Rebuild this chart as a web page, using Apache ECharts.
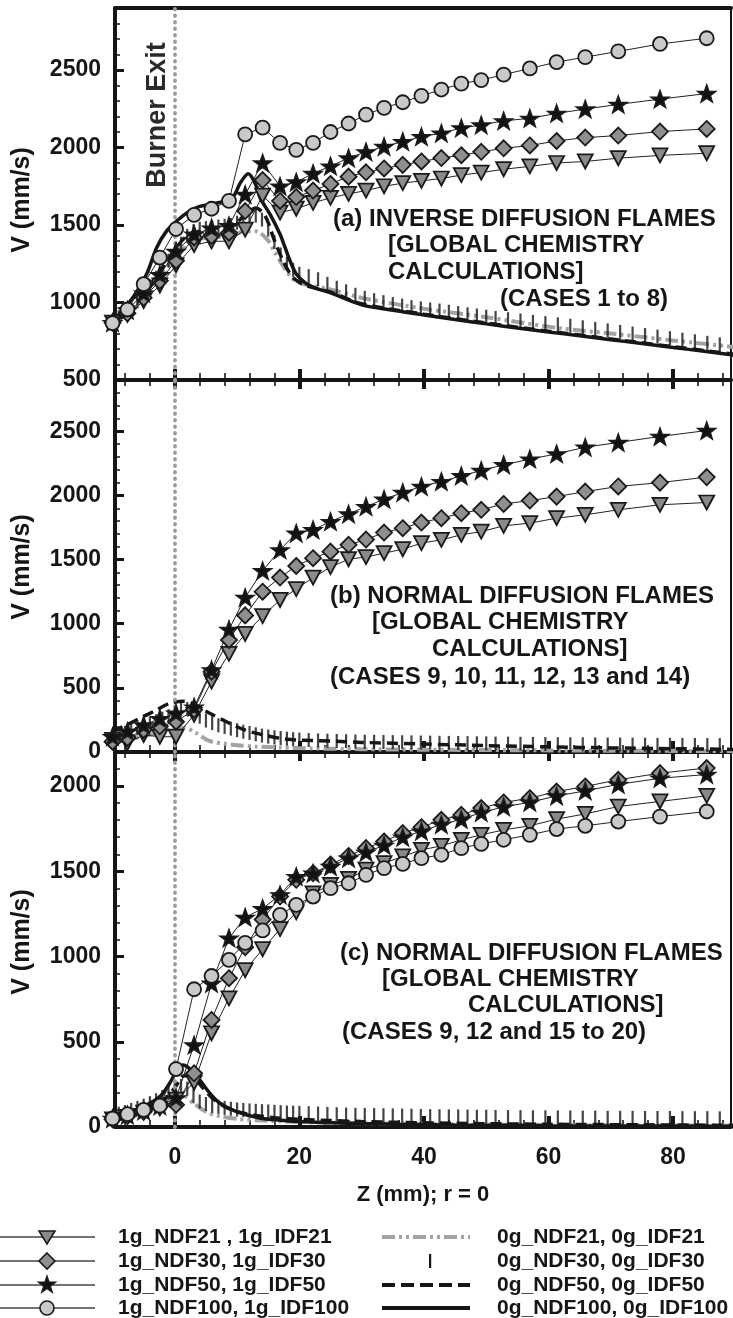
<!DOCTYPE html>
<html>
<head>
<meta charset="utf-8">
<script src="https://cdn.jsdelivr.net/npm/echarts@6/dist/echarts.min.js"></script>
<style>
  html, body { margin: 0; padding: 0; background: #fff; }
  #chart { width: 733px; height: 1318px; }
</style>
</head>
<body>
<div id="chart"></div>
<script>
// ---- Axial positions (mm) of the 1g solution points ----
const Z = [-10, -7.6, -5, -2.4, 0.2, 3.1, 5.9, 8.7, 11.3, 14.1, 16.9, 19.5, 22.2, 25, 27.9, 30.7,
  33.6, 36.6, 39.6, 42.8, 46, 49.2, 52.8, 57, 61.3, 65.9, 71.2, 77.9, 85.4];

// ---- (a) inverse diffusion flames, normal gravity ----
const A_T21 = [870, 920, 1010, 1110, 1240, 1370, 1395, 1395, 1470, 1690, 1580, 1605, 1643, 1675, 1701, 1722,
  1750, 1770, 1785, 1800, 1822, 1838, 1860, 1878, 1900, 1910, 1931, 1949, 1963];
const A_D30 = [870, 930, 1030, 1140, 1270, 1420, 1430, 1450, 1590, 1790, 1655, 1680, 1722, 1765, 1812, 1840,
  1865, 1888, 1910, 1932, 1950, 1972, 1995, 2013, 2042, 2064, 2077, 2103, 2120];
const A_S50 = [870, 950, 1060, 1180, 1330, 1440, 1480, 1495, 1697, 1900, 1750, 1777, 1832, 1880, 1932, 1972,
  2006, 2038, 2070, 2092, 2126, 2145, 2172, 2188, 2220, 2248, 2278, 2312, 2348];
const A_C100 = [867, 955, 1118, 1290, 1474, 1565, 1605, 1656, 2085, 2128, 2030, 1985, 2030, 2100, 2155, 2212,
  2256, 2292, 2333, 2374, 2412, 2435, 2470, 2510, 2551, 2583, 2620, 2668, 2705];

// ---- (b) normal diffusion flames, normal gravity ----
const B_T21 = [94, 70, 133, 119, 119, 290, 550, 765, 920, 1060, 1185, 1270, 1360, 1441, 1503, 1520,
  1550, 1581, 1628, 1654, 1693, 1718, 1763, 1784, 1823, 1849, 1888, 1927, 1945];
const B_D30 = [80, 110, 172, 200, 236, 330, 626, 874, 1065, 1250, 1360, 1450, 1511, 1562, 1615, 1656,
  1711, 1745, 1789, 1823, 1862, 1888, 1934, 1960, 1991, 2030, 2070, 2100, 2143];
const B_S50 = [120, 160, 210, 260, 302, 350, 640, 955, 1205, 1413, 1576, 1706, 1732, 1796, 1856, 1913,
  1970, 2023, 2070, 2108, 2153, 2194, 2239, 2283, 2324, 2376, 2413, 2460, 2506];

// ---- (c) normal diffusion flames, normal gravity ----
const C_T21 = [45, 60, 85, 110, 160, 260, 550, 755, 920, 1043, 1161, 1259, 1370, 1420, 1455, 1510,
  1548, 1587, 1626, 1649, 1685, 1714, 1743, 1767, 1806, 1837, 1880, 1910, 1943];
const C_D30 = [45, 65, 90, 120, 130, 315, 628, 873, 1055, 1217, 1352, 1450, 1489, 1540, 1590, 1636,
  1675, 1724, 1759, 1802, 1831, 1871, 1904, 1929, 1968, 1998, 2037, 2076, 2106];
const C_S50 = [50, 70, 95, 125, 170, 481, 843, 1108, 1230, 1281, 1362, 1469, 1489, 1528, 1577, 1612,
  1652, 1700, 1735, 1775, 1805, 1845, 1878, 1905, 1942, 1972, 2010, 2046, 2068];
const C_C100 = [50, 75, 100, 125, 340, 808, 886, 980, 1080, 1153, 1244, 1303, 1352, 1401, 1430, 1479,
  1519, 1544, 1577, 1597, 1636, 1661, 1685, 1714, 1748, 1767, 1792, 1821, 1851];

// ---- Zero-gravity solutions ----
// 21% curves (grey dash-dot)
const A0_Z21 = [-10, -6, -2, 0, 3, 6, 9, 11, 13, 15, 16, 17.5, 19, 21, 25, 30, 40, 50, 62, 70, 80, 90];
const A0_V21 = [870, 990, 1180, 1290, 1400, 1420, 1425, 1460, 1460, 1400, 1330, 1230, 1150, 1115, 1085, 1030, 960, 905, 833, 800, 755, 712];
const B0_Z21 = [-10, -7, -4, -2, 0, 1.5, 3.5, 5, 6, 8, 10, 13, 17, 22, 30, 40, 55, 70, 90];
const B0_V21 = [70, 100, 135, 165, 190, 190, 146, 100, 80, 65, 52, 42, 35, 28, 22, 18, 14, 10, 8];
const C0_Z21 = [-10, -7, -4, -2, -0.5, 0.5, 1.5, 3, 5, 7, 10, 14, 20, 30, 45, 60, 90];
const C0_V21 = [35, 60, 95, 135, 175, 195, 185, 140, 90, 65, 48, 38, 30, 22, 16, 12, 8];

// 30% curves ('|' marks)
const ZBAR = [-10, -9, -8, -7, -6, -5, -4, -3, -2, -1, 0, 1, 2, 3, 4, 5, 6, 7, 8, 9, 10, 11, 12, 13, 14, 15, 16, 17, 18, 19, 20,
  21.5, 23, 24.5, 26, 27.5, 29, 30.5, 32, 33.5, 35, 36.5, 38, 39.5, 41, 42.5, 44, 45.5, 47, 48.5, 50, 51.5,
  53.5, 55.5, 57.5, 59.5, 61.5, 63.5, 65.5, 67.5, 69.5, 71.5, 73.5, 75.5, 77.5, 79.5, 81.5, 83.5, 85.5, 87.5, 89.5];
const A0_V30 = [880, 905, 935, 970, 1010, 1055, 1105, 1160, 1215, 1270, 1320, 1380, 1430, 1460, 1475, 1480, 1485, 1490, 1495, 1500,
  1515, 1535, 1555, 1560, 1535, 1470, 1390, 1310, 1250, 1210, 1185,
  1170, 1150, 1120, 1095, 1072, 1050, 1030, 1015, 1002, 990, 980, 970, 962, 955, 948, 940, 932, 924, 916, 908, 900,
  892, 884, 875, 867, 859, 850, 840, 830, 820, 810, 800, 790, 780, 770, 760, 750, 740, 730, 720];
const B0_V30 = [120, 135, 150, 168, 185, 202, 220, 240, 260, 280, 300, 330, 335, 305, 275, 245, 225, 208, 195, 182,
  170, 158, 148, 138, 128, 120, 114, 109, 104, 100, 97,
  93, 90, 88, 86, 84, 82, 80, 79, 78, 77, 76, 75, 74, 73, 72, 71, 70, 69, 68, 67, 66,
  65, 64, 63, 62, 61, 60, 60, 59, 58, 58, 57, 57, 56, 56, 55, 55, 54, 54, 53];
const C0_V30 = [70, 78, 88, 100, 112, 125, 140, 157, 176, 198, 222, 240, 225, 180, 150, 135, 125, 118, 112, 107,
  103, 100, 97, 95, 93, 91, 89, 87, 85, 84, 83,
  81, 79, 77, 75, 73, 72, 71, 70, 69, 68, 67, 66, 65, 64, 63, 62, 62, 61, 60, 60, 59,
  58, 58, 57, 57, 56, 56, 55, 55, 54, 54, 54, 53, 53, 53, 52, 52, 52, 51, 51];

// 50% curves (black dashed)
const A0_Z50 = [-10, -6, -2, 0, 2, 5, 8, 10, 12, 13, 14.5, 16, 17.5, 19, 21, 25, 30, 40, 50, 60, 70, 80, 90];
const A0_V50 = [870, 990, 1220, 1340, 1430, 1470, 1490, 1520, 1590, 1610, 1560, 1400, 1260, 1160, 1110, 1068, 992, 925, 868, 815, 765, 715, 665];
const B0_Z50 = [-10, -9.4, -7.2, -5.1, -2.9, -0.8, 1.5, 2.5, 4, 5.6, 8.3, 11.2, 14.2, 16.9, 19.5, 25, 30, 40, 50, 60, 70, 80, 90];
const B0_V50 = [160, 172, 224, 275, 328, 380, 395, 385, 345, 302, 236, 172, 133, 107, 94, 85, 75, 62, 50, 40, 32, 26, 20];
const C0_Z50 = [-10, -7, -4, -2, 0, 1.5, 3, 4.5, 6, 8, 10, 13, 16, 20, 30, 45, 60, 90];
const C0_V50 = [35, 65, 105, 150, 230, 300, 290, 230, 170, 120, 90, 68, 55, 45, 32, 22, 16, 10];

// 100% curves (black solid)
const A0_Z100 = [-10, -8.8, -6.7, -4.5, -2.9, -1.3, 0.3, 2.4, 4, 6, 8, 9.5, 10.5, 11.8, 13, 13.7, 15.3, 16.9, 17.7, 18.5, 19.5,
  21, 22.5, 25, 30, 35, 40, 45, 50, 55, 60, 65, 70, 75, 80, 85, 90];
const A0_V100 = [870, 930, 1034, 1186, 1355, 1462, 1526, 1590, 1620, 1635, 1655, 1690, 1770, 1830, 1760, 1675, 1568, 1440, 1355, 1269, 1184,
  1125, 1095, 1062, 985, 950, 920, 890, 862, 835, 810, 785, 760, 735, 710, 685, 660];
const C0_Z100 = [-10, -8.3, -5.1, -2.4, -0.8, 0.3, 1.3, 2.3, 4, 5.6, 7.2, 9.9, 13.6, 17, 20, 30, 45, 60, 90];
const C0_V100 = [65, 80, 119, 178, 258, 330, 364, 345, 276, 199, 141, 90, 53, 40, 32, 20, 12, 8, 5];

// ---- Axis ticks ----
const X_MINOR = [-8, -4, 0, 4, 8, 12, 16, 20, 24, 28, 32, 36, 40, 44, 48, 52, 56, 60, 64, 68, 72, 76, 80, 84, 88];
const X_MAJOR = [0, 20, 40, 60, 80];
const X_LABELS = [0, 20, 40, 60, 80];

// ---- Drawing ----
const XMIN = -9.6, XMAX = 89.3;
const INK = '#161616';
const FONT = '"Liberation Sans", Arial, Helvetica, sans-serif';

const STAR = 'path://M0,-1L0.235,-0.324L0.951,-0.309L0.38,0.124L0.588,0.809L0,0.4L-0.588,0.809L-0.38,0.124L-0.951,-0.309L-0.235,-0.324Z';
const TRI_DOWN = 'path://M-1,-0.85L1,-0.85L0,0.9Z';
const DIAMOND = 'path://M0,-1L1,0L0,1L-1,0Z';

const MARK = {
  t21: { symbol: TRI_DOWN, size: [15, 14], fill: '#8a8a8a' },
  d30: { symbol: DIAMOND, size: [16, 16], fill: '#8f8f8f' },
  s50: { symbol: STAR, size: [17, 16], fill: '#111111' },
  c100: { symbol: 'circle', size: 14, fill: '#c9c9c9' }
};

const pairs = (xs, ys) => xs.map((x, i) => [x, ys[i]]);

const PANELS = [
  { top: 8, height: 372, ymin: 500, ymax: 2900,
    marks: { t21: A_T21, d30: A_D30, s50: A_S50, c100: A_C100 },
    g21: [A0_Z21, A0_V21], g30: A0_V30, g50: [A0_Z50, A0_V50], g100: [A0_Z100, A0_V100] },
  { top: 380, height: 372, ymin: 0, ymax: 2900,
    marks: { t21: B_T21, d30: B_D30, s50: B_S50 },
    g21: [B0_Z21, B0_V21], g30: B0_V30, g50: [B0_Z50, B0_V50], g100: null },
  { top: 752, height: 375, ymin: 0, ymax: 2200,
    marks: { t21: C_T21, d30: C_D30, s50: C_S50, c100: C_C100 },
    g21: [C0_Z21, C0_V21], g30: C0_V30, g50: [C0_Z50, C0_V50], g100: [C0_Z100, C0_V100] }
];

const grids = [], xAxes = [], yAxes = [], series = [];

function tickAxis(gi, position, values, length, width) {
  return {
    gridIndex: gi, type: 'value', min: XMIN, max: XMAX, position,
    axisLine: { show: false, onZero: false },
    axisTick: { show: true, inside: true, length, customValues: values, lineStyle: { color: INK, width } },
    axisLabel: { show: false }, splitLine: { show: false }
  };
}

const LABEL_STYLE = { color: INK, fontSize: 23, fontWeight: 'bold', fontFamily: FONT };

PANELS.forEach((p, i) => {
  const last = i === PANELS.length - 1;
  grids.push({ left: 115, width: 616, top: p.top, height: p.height });

  const xi = xAxes.length;
  xAxes.push({
    gridIndex: i, type: 'value', min: XMIN, max: XMAX, position: 'bottom',
    axisLine: { show: true, onZero: false, lineStyle: { color: INK, width: 4 } },
    axisTick: { show: true, inside: true, length: 7, customValues: X_MINOR, lineStyle: { color: INK, width: 1.6 } },
    axisLabel: Object.assign({ show: last, customValues: X_LABELS, margin: 19, formatter: v => String(v) }, LABEL_STYLE),
    splitLine: { show: false },
    name: last ? 'Z (mm); r = 0' : '', nameLocation: 'middle', nameGap: 57,
    nameTextStyle: { color: INK, fontSize: 22, fontWeight: 'bold', fontFamily: FONT }
  });
  xAxes.push(tickAxis(i, 'bottom', X_MAJOR, 11, 4));
  if (i === 0) {
    xAxes.push({
      gridIndex: i, type: 'value', min: XMIN, max: XMAX, position: 'top',
      axisLine: { show: true, onZero: false, lineStyle: { color: INK, width: 4 } },
      axisTick: { show: false }, axisLabel: { show: false }, splitLine: { show: false }
    });
  } else {
    xAxes.push(tickAxis(i, 'top', X_MINOR, 6, 1.6));
    xAxes.push(tickAxis(i, 'top', X_MAJOR, 9, 4));
  }

  const yi = yAxes.length;
  yAxes.push({
    gridIndex: i, type: 'value', min: p.ymin, max: p.ymax, interval: 500, position: 'left',
    axisLine: { show: true, onZero: false, lineStyle: { color: INK, width: 4 } },
    axisTick: { show: true, inside: true, length: 9, lineStyle: { color: INK, width: 3 } },
    axisLabel: Object.assign({ show: true, showMaxLabel: false, margin: 14, formatter: v => String(v) }, LABEL_STYLE),
    splitLine: { show: false }
  });
  yAxes.push({
    gridIndex: i, type: 'value', min: p.ymin, max: p.ymax, interval: 100, position: 'left',
    axisLine: { show: false, onZero: false },
    axisTick: { show: true, inside: true, length: 5, lineStyle: { color: INK, width: 1.5 } },
    axisLabel: { show: false }, splitLine: { show: false }
  });
  yAxes.push({
    gridIndex: i, type: 'value', min: p.ymin, max: p.ymax, position: 'right',
    axisLine: { show: true, onZero: false, lineStyle: { color: INK, width: 2 } },
    axisTick: { show: false }, axisLabel: { show: false }, splitLine: { show: false }
  });

  const ax = { xAxisIndex: xi, yAxisIndex: yi };

  // zero-gravity curves
  series.push(Object.assign({
    name: '0g_21', type: 'line', data: pairs(p.g21[0], p.g21[1]), smooth: 0.3, showSymbol: false, z: 3,
    lineStyle: { color: '#a3a3a3', width: 4, type: [13, 4, 3, 4, 3, 4] },
    markLine: {
      silent: true, symbol: ['none', 'none'], label: { show: false }, animation: false,
      lineStyle: { color: '#9c9c9c', width: 3.8, type: [0.5, 6], cap: 'round' },
      data: [{ xAxis: 0 }]
    }
  }, ax));
  series.push(Object.assign({
    name: '0g_30', type: 'scatter', data: pairs(ZBAR, p.g30), symbol: 'rect', symbolSize: [2.2, 14], z: 3,
    itemStyle: { color: INK }
  }, ax));
  series.push(Object.assign({
    name: '0g_50', type: 'line', data: pairs(p.g50[0], p.g50[1]), smooth: 0.3, showSymbol: false, z: 3,
    lineStyle: { color: INK, width: 3.5, type: [11, 6] }
  }, ax));
  if (p.g100) {
    series.push(Object.assign({
      name: '0g_100', type: 'line', data: pairs(p.g100[0], p.g100[1]), smooth: 0.3, showSymbol: false, z: 4,
      lineStyle: { color: INK, width: 3.5 }
    }, ax));
  }

  // normal-gravity solution points
  ['t21', 'd30', 's50', 'c100'].forEach(k => {
    const vals = p.marks[k];
    if (!vals) return;
    const m = MARK[k];
    series.push(Object.assign({
      name: '1g_' + k, type: 'line', data: pairs(Z, vals), clip: false, z: 5,
      symbol: m.symbol, symbolSize: m.size, showAllSymbol: true,
      lineStyle: { color: '#222', width: 1 },
      itemStyle: { color: m.fill, borderColor: '#1a1a1a', borderWidth: 1.8 }
    }, ax));
  });
});

// ---- Text and legend ----
const T = (text, x, y, size, extra) => Object.assign({
  type: 'text', x, y, z: 20,
  style: { text, fill: INK, font: 'bold ' + size + 'px ' + FONT, textAlign: 'left', textVerticalAlign: 'middle' }
}, extra || {});
const vertical = (text, x, y, size, fill) => ({
  type: 'text', x, y, z: 20, rotation: Math.PI / 2,
  style: { text, fill, font: 'bold ' + size + 'px ' + FONT, textAlign: 'center', textVerticalAlign: 'middle' }
});

const graphics = [
  vertical('Burner Exit', 158, 115, 27, '#2a2a2a'),
  vertical('V (mm/s)', 22, 200, 25, INK),
  vertical('V (mm/s)', 22, 567, 25, INK),
  vertical('V (mm/s)', 22, 942, 25, INK),

  T('(a) INVERSE DIFFUSION FLAMES', 333, 219, 24),
  T('[GLOBAL CHEMISTRY', 388, 245, 24),
  T('CALCULATIONS]', 388, 272, 24),
  T('(CASES 1 to 8)', 500, 299, 24),

  T('(b) NORMAL DIFFUSION FLAMES', 330, 596, 24),
  T('[GLOBAL CHEMISTRY', 372, 622, 24),
  T('CALCULATIONS]', 432, 649, 24),
  T('(CASES 9, 10, 11, 12, 13 and 14)', 330, 677, 24),

  T('(c) NORMAL DIFFUSION FLAMES', 340, 953, 24),
  T('[GLOBAL CHEMISTRY', 382, 979, 24),
  T('CALCULATIONS]', 468, 1005, 24),
  T('(CASES 9, 12 and 15 to 20)', 342, 1032, 24)
];

// legend: left column (normal gravity)
const LEG_Y = [1237, 1261, 1285, 1308];
const LEG_LEFT = [
  ['t21', '1g_NDF21 , 1g_IDF21'],
  ['d30', '1g_NDF30, 1g_IDF30'],
  ['s50', '1g_NDF50, 1g_IDF50'],
  ['c100', '1g_NDF100, 1g_IDF100']
];
function iconShape(kind, cx, cy) {
  const st = { fill: MARK[kind].fill, stroke: '#1a1a1a', lineWidth: 1.6 };
  if (kind === 'c100') return { type: 'circle', shape: { cx, cy, r: 7 }, style: st, z: 21 };
  let pts;
  if (kind === 't21') pts = [[cx - 8, cy - 6], [cx + 8, cy - 6], [cx, cy + 7]];
  else if (kind === 'd30') pts = [[cx, cy - 8], [cx + 8, cy], [cx, cy + 8], [cx - 8, cy]];
  else {
    pts = [];
    for (let k = 0; k < 10; k++) {
      const a = -Math.PI / 2 + k * Math.PI / 5, r = k % 2 ? 3.3 : 8.5;
      pts.push([cx + r * Math.cos(a), cy + r * Math.sin(a)]);
    }
    st.fill = '#111';
  }
  return { type: 'polygon', shape: { points: pts }, style: st, z: 21 };
}
LEG_LEFT.forEach((row, i) => {
  const y = LEG_Y[i];
  graphics.push({ type: 'line', shape: { x1: 0, y1: y, x2: 95, y2: y }, style: { stroke: '#444', lineWidth: 1.3 }, z: 20 });
  graphics.push(iconShape(row[0], 47, y));
  graphics.push(T(row[1], 118, y, 21));
});

// legend: right column (zero gravity)
const LEG_RIGHT = ['0g_NDF21, 0g_IDF21', '0g_NDF30, 0g_IDF30', '0g_NDF50, 0g_IDF50', '0g_NDF100, 0g_IDF100'];
graphics.push({ type: 'line', shape: { x1: 382, y1: LEG_Y[0], x2: 470, y2: LEG_Y[0] }, style: { stroke: '#a3a3a3', lineWidth: 4, lineDash: [13, 4, 3, 4, 3, 4] }, z: 20 });
graphics.push({ type: 'rect', shape: { x: 429, y: LEG_Y[1] - 7, width: 2.2, height: 14 }, style: { fill: INK }, z: 20 });
graphics.push({ type: 'line', shape: { x1: 382, y1: LEG_Y[2], x2: 470, y2: LEG_Y[2] }, style: { stroke: INK, lineWidth: 4, lineDash: [13, 6] }, z: 20 });
graphics.push({ type: 'line', shape: { x1: 382, y1: LEG_Y[3], x2: 470, y2: LEG_Y[3] }, style: { stroke: INK, lineWidth: 4 }, z: 20 });
LEG_RIGHT.forEach((txt, i) => graphics.push(T(txt, 497, LEG_Y[i], 21)));

const chart = echarts.init(document.getElementById('chart'), null, { renderer: 'canvas' });
chart.setOption({
  animation: false,
  backgroundColor: '#ffffff',
  grid: grids,
  xAxis: xAxes,
  yAxis: yAxes,
  series,
  graphic: graphics
});
</script>
</body>
</html>
